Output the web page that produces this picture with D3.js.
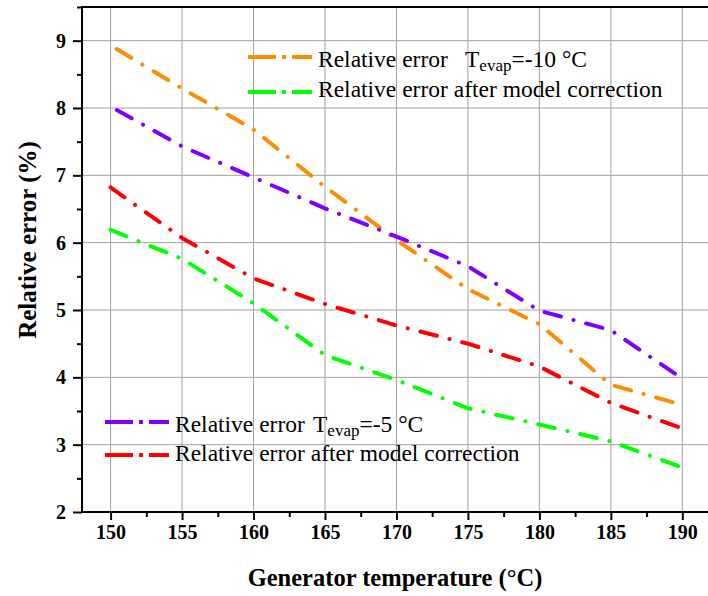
<!DOCTYPE html>
<html>
<head>
<meta charset="utf-8">
<script src="https://cdn.jsdelivr.net/npm/d3@7/dist/d3.min.js"></script>
<style>
  body { margin: 0; background: #fff; }
  text { font-family: "Liberation Serif", "Times New Roman", serif; fill: #000; }
</style>
</head>
<body>
<svg id="chart" width="708" height="596"></svg>
<script>
// generator temperature (°C)
const temps = [150, 155, 160, 165, 170, 175, 180, 185, 190];
// relative error (%), Tevap = -10 °C
const relErrM10 = [8.93, 8.29, 7.68, 6.83, 6.04, 5.31, 4.79, 3.89, 3.59];
const corrErrM10 = [6.19, 5.76, 5.10, 4.33, 3.96, 3.54, 3.30, 3.05, 2.66];
// relative error (%), Tevap = -5 °C
const relErrM5 = [8.02, 7.43, 6.97, 6.51, 6.09, 5.65, 4.99, 4.70, 3.98];
const corrErrM5 = [6.82, 6.07, 5.47, 5.09, 4.77, 4.50, 4.16, 3.62, 3.24];

const xTicks = [150, 155, 160, 165, 170, 175, 180, 185, 190];
const yTicks = [2, 3, 4, 5, 6, 7, 8, 9];
const legendLabels = ["Relative error", "Relative error after model correction"];
const tevapLabels = ["=-10 °C", "=-5 °C"];

const svg = d3.select("#chart");

const x = d3.scaleLinear().domain([148, 192]).range([82, 710.9]);
const y = d3.scaleLinear().domain([2, 9.5]).range([512, 7]);

// grid
const grid = svg.append("g").attr("stroke", "#a0a0a0").attr("stroke-width", 1);
grid.selectAll("line.gx").data(xTicks).enter().append("line")
  .attr("x1", d => x(d)).attr("x2", d => x(d))
  .attr("y1", y(9.5)).attr("y2", y(2));
grid.selectAll("line.gy").data(yTicks.slice(1)).enter().append("line")
  .attr("x1", x(148)).attr("x2", 708)
  .attr("y1", d => y(d)).attr("y2", d => y(d));

// axes
const xAxis = d3.axisBottom(x).tickValues(xTicks).tickSize(8).tickPadding(5);
const xMinor = d3.axisBottom(x).tickValues(xTicks.map(d => d + 2.5)).tickSize(5).tickFormat("");
const yAxis = d3.axisLeft(y).tickValues(yTicks).tickSize(9).tickPadding(7);
const yMinor = d3.axisLeft(y).tickValues(yTicks.map(d => d + 0.5)).tickSize(5).tickFormat("");

function styleAxis(g) {
  g.select(".domain").remove();
  g.selectAll("line").attr("stroke", "#000").attr("stroke-width", 2);
  g.selectAll("text")
    .style("font-family", '"Liberation Serif", "Times New Roman", serif')
    .style("font-weight", "bold").style("font-size", "20px").attr("fill", "#000");
}

svg.append("g").attr("transform", `translate(0,${y(2)})`).call(xAxis).call(styleAxis);
svg.append("g").attr("transform", `translate(0,${y(2)})`).call(xMinor).call(styleAxis);
svg.append("g").attr("transform", `translate(${x(148)},0)`).call(yAxis).call(styleAxis);
svg.append("g").attr("transform", `translate(${x(148)},0)`).call(yMinor).call(styleAxis);

// frame lines
svg.append("line").attr("x1", x(148)).attr("x2", 708).attr("y1", y(2)).attr("y2", y(2))
  .attr("stroke", "#000").attr("stroke-width", 2);
svg.append("line").attr("x1", x(148)).attr("x2", x(148)).attr("y1", y(9.5)).attr("y2", y(2) + 1)
  .attr("stroke", "#000").attr("stroke-width", 2);
svg.append("line").attr("x1", x(148) - 1).attr("x2", 708).attr("y1", y(9.5)).attr("y2", y(9.5))
  .attr("stroke", "#000").attr("stroke-width", 2);

// series
const series = [
  { values: relErrM10, color: "#ff8c00", offset: 36 },
  { values: relErrM5, color: "#8000ff", offset: 36 },
  { values: corrErrM5, color: "#ff0000", offset: 0 },
  { values: corrErrM10, color: "#00ff00", offset: 0 }
];

const line = d3.line().x(d => x(d[0])).y(d => y(d[1]));

svg.append("g").selectAll("path").data(series).enter().append("path")
  .attr("d", s => line(temps.map((t, i) => [t, s.values[i]])))
  .attr("fill", "none")
  .attr("stroke", s => s.color)
  .attr("stroke-width", 4)
  .attr("stroke-linecap", "round")
  .attr("stroke-linejoin", "round")
  .attr("stroke-dasharray", "17,13,0.1,13")
  .attr("stroke-dashoffset", s => s.offset);

// legends
const legends = [
  { x0: 248, textX: 318, tX: 465, rows: [57, 92], base: [67, 97], colors: ["#ff8c00", "#00ff00"], tevap: tevapLabels[0] },
  { x0: 105, textX: 175, tX: 313, rows: [422, 455], base: [431.5, 461], colors: ["#8000ff", "#ff0000"], tevap: tevapLabels[1] }
];

legends.forEach(lg => {
  const g = svg.append("g");
  lg.rows.forEach((ry, i) => {
    g.append("line")
      .attr("x1", lg.x0).attr("x2", lg.x0 + 64)
      .attr("y1", ry).attr("y2", ry)
      .attr("stroke", lg.colors[i]).attr("stroke-width", 4)
      .attr("stroke-dasharray", "28,6,4,6,30");
    g.append("text")
      .attr("x", lg.textX).attr("y", lg.base[i])
      .style("font-size", "23.5px")
      .text(legendLabels[i]);
  });
  const t = g.append("text").attr("x", lg.tX).attr("y", lg.base[0]).style("font-size", "23.5px");
  t.append("tspan").text("T");
  t.append("tspan").attr("dy", 4).style("font-size", "17px").text("evap");
  t.append("tspan").attr("dy", -4).text(lg.tevap);
});

// axis titles
svg.append("text")
  .attr("x", 395).attr("y", 586)
  .attr("text-anchor", "middle")
  .style("font-size", "24.5px").style("font-weight", "bold")
  .text("Generator temperature (°C)");

svg.append("text")
  .attr("transform", "translate(36,240) rotate(-90)")
  .attr("text-anchor", "middle")
  .style("font-size", "25px").style("font-weight", "bold")
  .text("Relative error (%)");
</script>
</body>
</html>
